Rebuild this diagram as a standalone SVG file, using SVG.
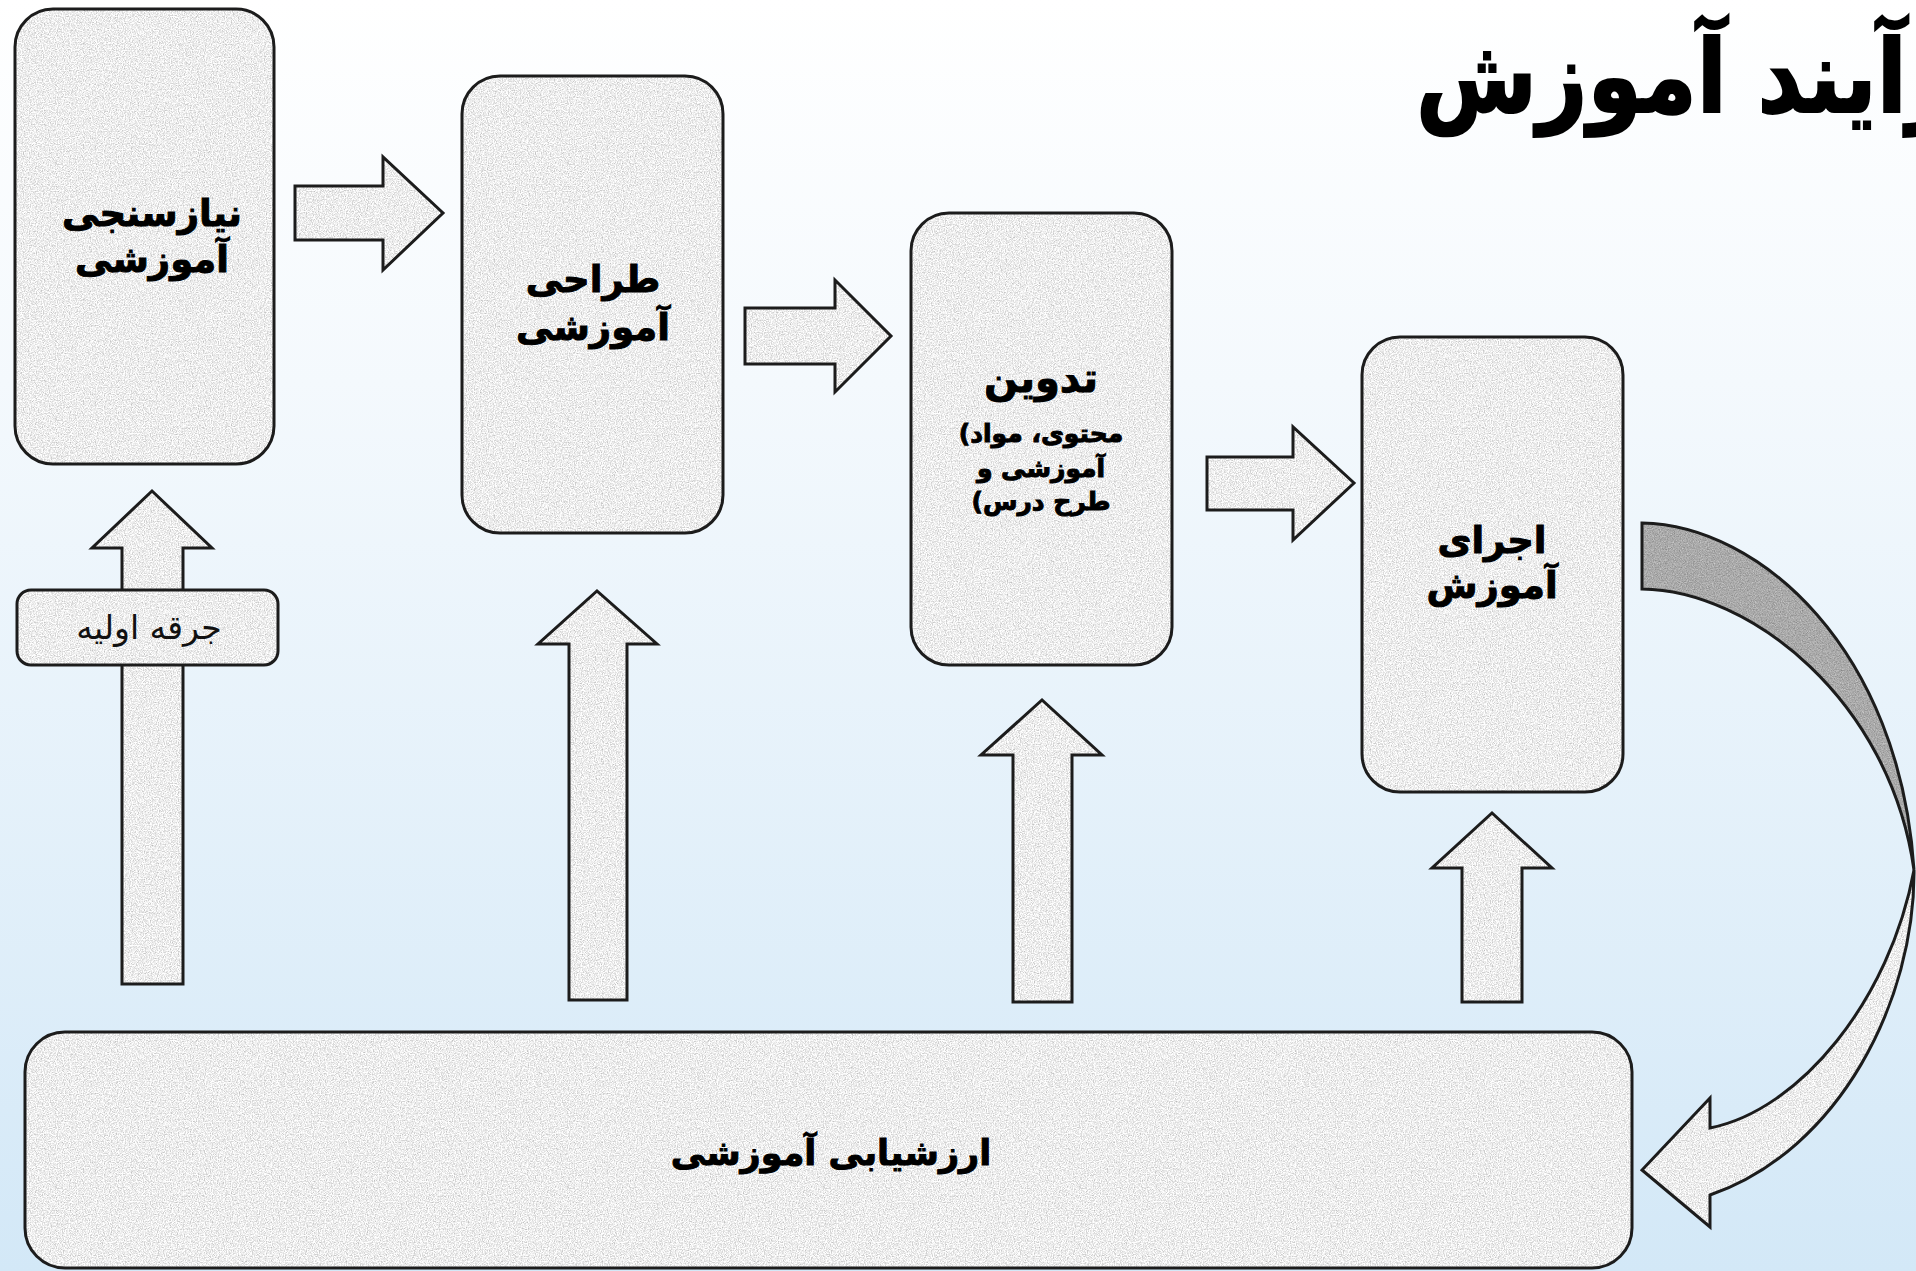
<svg xmlns="http://www.w3.org/2000/svg" width="1916" height="1271" viewBox="0 0 1916 1271">
<defs>
  <linearGradient id="bg" x1="0" y1="0" x2="0" y2="1">
    <stop offset="0" stop-color="#ffffff"/>
    <stop offset="0.3" stop-color="#f4f9fd"/>
    <stop offset="1" stop-color="#d3e8f7"/>
  </linearGradient>
  <filter id="noise" x="0" y="0" width="100%" height="100%" color-interpolation-filters="sRGB">
    <feTurbulence type="fractalNoise" baseFrequency="0.85" numOctaves="3" seed="4" stitchTiles="stitch"/>
    <feColorMatrix type="matrix" values="0.5 0 0 0 0.68  0.5 0 0 0 0.68  0.5 0 0 0 0.68  0 0 0 0 1"/>
  </filter>
  <filter id="noiseDark" x="0" y="0" width="100%" height="100%" color-interpolation-filters="sRGB">
    <feTurbulence type="fractalNoise" baseFrequency="0.85" numOctaves="3" seed="7" stitchTiles="stitch"/>
    <feColorMatrix type="matrix" values="0.35 0 0 0 0.49  0.35 0 0 0 0.49  0.35 0 0 0 0.49  0 0 0 0 1"/>
  </filter>
  <pattern id="tex" patternUnits="userSpaceOnUse" width="256" height="256">
    <rect width="256" height="256" fill="#e8e8e8" filter="url(#noise)"/>
  </pattern>
  <pattern id="texDark" patternUnits="userSpaceOnUse" width="256" height="256">
    <rect width="256" height="256" fill="#a8a8a8" filter="url(#noiseDark)"/>
  </pattern>
  <style>
    .box { fill: url(#tex); stroke: #1c1c1c; stroke-width: 3; }
    .arr { fill: url(#tex); stroke: #1c1c1c; stroke-width: 3; stroke-linejoin: miter; }
    .dark { fill: url(#texDark); stroke: #1c1c1c; stroke-width: 3; }
    .t { font-family: "DejaVu Sans", "Noto Sans", sans-serif; font-weight: bold; fill: #000; stroke: #000; stroke-width: 1; text-anchor: middle; }
    .lbl { font-family: "DejaVu Sans", "Noto Sans", sans-serif; font-weight: normal; fill: #111; text-anchor: middle; font-size: 33px; }
  </style>
</defs>
<rect width="1916" height="1271" fill="url(#bg)"/>

<g id="title">
  <text transform="translate(1416,112) scale(0.86,1)" x="0" y="0" font-family="DejaVu Sans, sans-serif" font-weight="bold" font-size="102" fill="#000" stroke="#000" stroke-width="2">فرآیند آموزش</text>
</g>

<g id="connectors">
  <polygon class="arr" points="295,186 383,186 383,157 443,213 383,270 383,240 295,240"/>
  <polygon class="arr" points="745,308 835,308 835,280 891,336 835,392 835,364 745,364"/>
  <polygon class="arr" points="1207,457 1293,457 1293,427 1354,483 1293,540 1293,510 1207,510"/>
  <polygon class="arr" points="122,984 122,548 92,548 152,491 212,548 183,548 183,984"/>
  <polygon class="arr" points="569,1000 569,644 538,644 597,591 657,644 627,644 627,1000"/>
  <polygon class="arr" points="1013,1002 1013,755 981,755 1042,700 1102,755 1072,755 1072,1002"/>
  <polygon class="arr" points="1462,1002 1462,868 1432,868 1492,813 1552,868 1522,868 1522,1002"/>
  <path class="dark" d="M1642,523 C1760,525 1900,650 1914,870 C1890,700 1750,590 1642,589 Z"/>
  <path class="arr" d="M1914,870 C1915,1000 1840,1150 1710,1195 L1710,1227 L1642,1170 L1710,1098 L1710,1128 C1800,1110 1890,1000 1914,870 Z"/>
</g>

<g id="node-needs">
  <rect class="box" x="15" y="9" width="259" height="455" rx="38"/>
  <text class="t" x="152" y="226" font-size="37">نیازسنجی</text>
  <text class="t" x="152" y="272" font-size="37">آموزشی</text>
</g>

<g id="node-spark">
  <rect class="box" x="17" y="590" width="261" height="75" rx="14"/>
  <text class="lbl" x="149" y="639">جرقه اولیه</text>
</g>

<g id="node-design">
  <rect class="box" x="462" y="76" width="261" height="457" rx="38"/>
  <text class="t" x="593" y="292" font-size="37">طراحی</text>
  <text class="t" x="593" y="340" font-size="37">آموزشی</text>
</g>

<g id="node-develop">
  <rect class="box" x="911" y="213" width="261" height="452" rx="38"/>
  <text class="t" x="1041" y="392" font-size="40">تدوین</text>
  <text class="t" x="1041" y="442" font-size="25">(محتوی، مواد</text>
  <text class="t" x="1041" y="477" font-size="25">آموزشی و</text>
  <text class="t" x="1041" y="510" font-size="25" direction="rtl">طرح درس)</text>
</g>

<g id="node-implement">
  <rect class="box" x="1362" y="337" width="261" height="455" rx="38"/>
  <text class="t" x="1492" y="553" font-size="37">اجرای</text>
  <text class="t" x="1492" y="598" font-size="37">آموزش</text>
</g>

<g id="node-evaluation">
  <rect class="box" x="25" y="1032" width="1607" height="236" rx="40"/>
  <text class="t" x="831" y="1165" font-size="35">ارزشیابی آموزشی</text>
</g>
</svg>
